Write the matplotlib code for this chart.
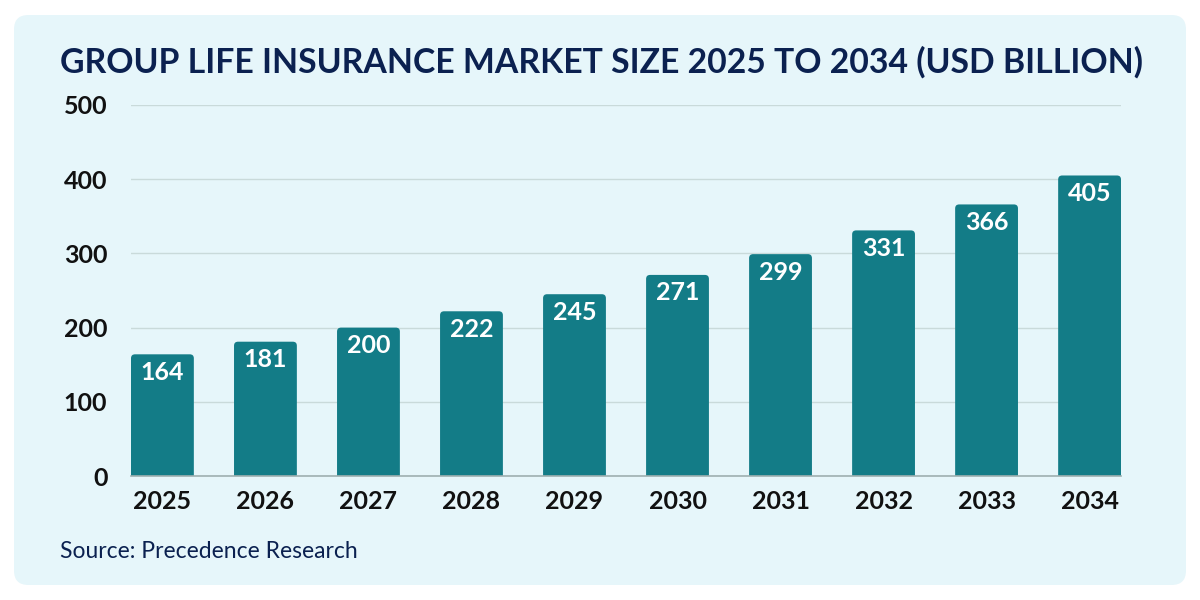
import matplotlib
matplotlib.use("Agg")
import matplotlib.pyplot as plt
from matplotlib.patches import FancyBboxPatch

years = ["2025", "2026", "2027", "2028", "2029", "2030", "2031", "2032", "2033", "2034"]
values = [164, 181, 200, 222, 245, 271, 299, 331, 366, 405]
yticks = [0, 100, 200, 300, 400, 500]

title = "GROUP LIFE INSURANCE MARKET SIZE 2025 TO 2034 (USD BILLION)"
source = "Source: Precedence Research"

plt.rcParams['font.family'] = ['Lato', 'DejaVu Sans']

fig = plt.figure(figsize=(12, 6), dpi=100)
fig.patch.set_facecolor("white")
panel = FancyBboxPatch((14/1200, 15/600), 1172/1200, 570/600,
                       boxstyle="round,pad=0,rounding_size=0.012",
                       transform=fig.transFigure, facecolor="#E6F6FA",
                       edgecolor="none", mutation_aspect=2, zorder=-5)
fig.patches.append(panel)

ax = fig.add_axes([131/1200, 1-476/600, (1121-131)/1200, (476-105)/600])
ax.set_zorder(1)
ax.set_facecolor("none")
x = list(range(len(years)))
bars = ax.bar(x, values, width=0.61, color="#137C87", zorder=3)
ax.set_xlim(-0.305, len(years) - 1 + 0.305)
ax.set_ylim(0, 500)

# replace bars with versions having slightly rounded top corners
fig.canvas.draw()
px_x = ax.transData.transform((1, 0))[0] - ax.transData.transform((0, 0))[0]
px_y = ax.transData.transform((0, 1))[1] - ax.transData.transform((0, 0))[1]
r_px = 4
r_x = r_px / px_x
aspect = (r_px / px_y) / r_x
for b in bars:
    bx, by, bw, bh = b.get_x(), b.get_y(), b.get_width(), b.get_height()
    ext = 3 * r_px / px_y
    rb = FancyBboxPatch((bx, by - ext), bw, bh + ext,
                        boxstyle=f"round,pad=0,rounding_size={r_x}",
                        mutation_aspect=aspect, facecolor=b.get_facecolor(),
                        edgecolor="none", zorder=3, clip_on=True)
    ax.add_patch(rb)
    rb.set_clip_path(ax.patch)
    b.set_visible(False)

ax.set_yticks(yticks)
ax.set_yticklabels([str(v) for v in yticks])
ax.set_xticks(x)
ax.set_xticklabels(years)
ax.grid(axis="y", color="#C9DADA", linewidth=1, zorder=0)
for s in ["top", "right", "left"]:
    ax.spines[s].set_visible(False)
ax.spines["bottom"].set_color("#9FB0B0")
ax.spines["bottom"].set_linewidth(1.2)
ax.spines["bottom"].set_zorder(4)
ax.tick_params(axis="both", length=0, labelsize=18, labelcolor="#111111")
ax.tick_params(axis="y", pad=17)
ax.tick_params(axis="x", pad=10)
for lab in ax.get_xticklabels() + ax.get_yticklabels():
    lab.set_fontweight("bold")

for xi, v in zip(x, values):
    ax.annotate(str(v), (xi, v), xytext=(0, -13), textcoords="offset points",
                ha="center", va="center", color="white", fontsize=18,
                fontweight="bold", zorder=5)

fig.text(60/1200, 1-62/600, title, fontsize=24.3, fontweight="bold",
         color="#0B2150", ha="left", va="center")
fig.text(60/1200, 1-552/600, source, fontsize=16.5, color="#0B2150",
         ha="left", va="center")

fig.savefig("out.png", dpi=100, facecolor="white")
